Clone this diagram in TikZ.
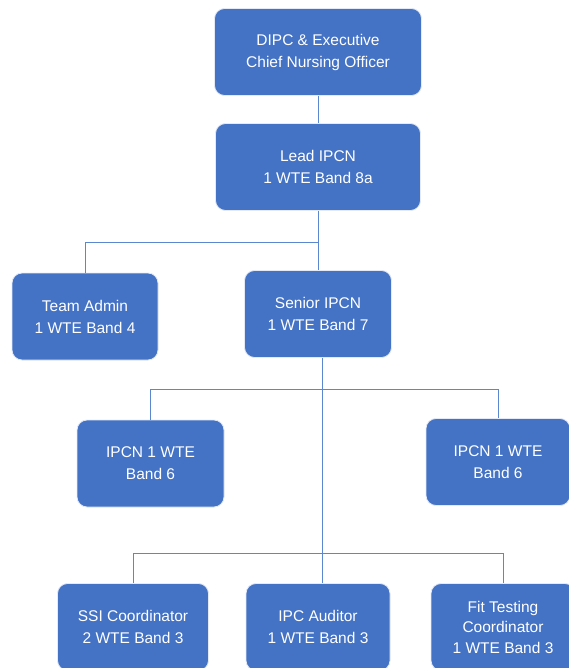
\documentclass[tikz,border=0pt]{standalone}
\usepackage{fontspec}
\setmainfont{Liberation Sans}
\usepackage{tikz}
\definecolor{boxblue}{HTML}{4472C4}
\definecolor{lineblue}{HTML}{5B86D0}
\tikzstyle{post} = [rectangle, rounded corners=10pt, fill=boxblue, draw=white!85!boxblue, line width=0.8pt, text=white, align=center, inner sep=0pt, minimum height=87pt, font=\fontsize{15.5}{22}\selectfont]
\tikzstyle{link} = [draw=lineblue, line width=0.8pt]

\begin{document}
\begin{tikzpicture}[x=1pt, y=-1pt]
	\useasboundingbox (0,0) rectangle (569,668);
	\clip (0,0) rectangle (569,668);
	\node[post, minimum width=207pt] (dipc) at (318,52) {DIPC \& Executive\\Chief Nursing Officer};
	\node[post, minimum width=205pt] (lead) at (318,167) {Lead IPCN\\1 WTE Band 8a};
	\node[post, minimum width=146pt] (admin) at (85,316.5) {Team Admin\\1 WTE Band 4};
	\node[post, minimum width=147pt] (senior) at (318,314) {Senior IPCN\\1 WTE Band 7};
	\node[post, minimum width=147pt] (ipcnl) at (150.5,463.5) {IPCN 1 WTE\\Band 6};
	\node[post, minimum width=144pt] (ipcnr) at (498,462) {IPCN 1 WTE\\Band 6};
	\node[post, minimum width=151pt] (ssi) at (133,627) {SSI Coordinator\\2 WTE Band 3};
	\node[post, minimum width=144pt] (audit) at (318,627) {IPC Auditor\\1 WTE Band 3};
	\node[post, minimum width=144pt, font=\fontsize{15.5}{20.5}\selectfont] (fit) at (503,627) {Fit Testing\\Coordinator\\1 WTE Band 3};
	% top of the tree
	\draw[link] (dipc.south) -- (lead.north);
	\draw[link] (lead.south) -- ++(0,31) coordinate (split1);
	\draw[link] (split1) -| (admin.north);
	\draw[link] (split1) -- (senior.north);
	% under senior IPCN
	\draw[link] ([xshift=4.5pt]senior.south) -- ++(0,31) coordinate (split2);
	\draw[link] (split2) -| (ipcnl.north);
	\draw[link] (split2) -| (ipcnr.north);
	\draw[link] (split2) -- ++(0,164) coordinate (split3);
	\draw[link] (split3) -| (ssi.north);
	\draw[link] (split3) -| (fit.north);
	\draw[link] (split3) -- ([xshift=4.5pt]audit.north);
\end{tikzpicture}
\end{document}
